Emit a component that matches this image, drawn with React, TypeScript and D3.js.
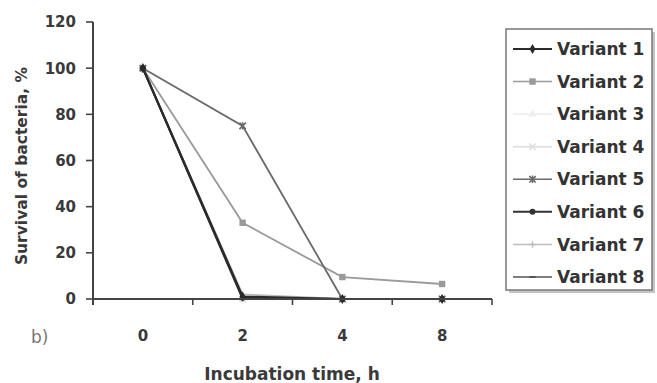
import * as d3 from 'd3';

const categories = ['0', '2', '4', '8'];
const yTicks = [0, 20, 40, 60, 80, 100, 120];
const variants = ['Variant 1', 'Variant 2', 'Variant 3', 'Variant 4', 'Variant 5', 'Variant 6', 'Variant 7', 'Variant 8'];

const v1 = [100, 1, 0, 0];
const v2 = [100, 33, 9.5, 6.5];
const v3 = [100, 0, 0, 0];
const v4 = [100, 0, 0, 0];
const v5 = [100, 75, 0, 0];
const v6 = [100, 0.5, 0, 0];
const v7 = [100, 2, 0, 0];
const v8 = [100, 0, 0, 0];
const seriesValues = [v1, v2, v3, v4, v5, v6, v7, v8];

const colors = ['#2a2a2a', '#9a9a9a', '#eeeeee', '#dddddd', '#6a6a6a', '#333333', '#bdbdbd', '#555555'];
const markers = ['diamond', 'square', 'triangle', 'x', 'star', 'circle', 'plus', 'dash'];

const W = 657;
const H = 383;
const font = '"DejaVu Sans", sans-serif';
const textColor = '#3a3a3a';

function Marker({ kind, x, y, color }: { kind: string; x: number; y: number; color: string }) {
  const s = 3.2;
  if (kind === 'diamond') return <path d={d3.symbol(d3.symbolDiamond, 30)()!} transform={`translate(${x},${y})`} fill={color} />;
  if (kind === 'square') return <rect x={x - s} y={y - s} width={2 * s} height={2 * s} fill={color} />;
  if (kind === 'triangle') return <path d={d3.symbol(d3.symbolTriangle, 30)()!} transform={`translate(${x},${y})`} fill={color} />;
  if (kind === 'circle') return <circle cx={x} cy={y} r={3} fill={color} />;
  if (kind === 'x')
    return <path d={`M${x - s},${y - s}L${x + s},${y + s}M${x - s},${y + s}L${x + s},${y - s}`} stroke={color} strokeWidth={1.5} />;
  if (kind === 'star')
    return (
      <path
        d={`M${x - s},${y - s}L${x + s},${y + s}M${x - s},${y + s}L${x + s},${y - s}M${x},${y - s - 0.5}L${x},${y + s + 0.5}`}
        stroke={color}
        strokeWidth={1.6}
      />
    );
  if (kind === 'plus') return <path d={`M${x - s},${y}L${x + s},${y}M${x},${y - s}L${x},${y + s}`} stroke={color} strokeWidth={1.4} />;
  return <path d={`M${x - s},${y}L${x + s},${y}`} stroke={color} strokeWidth={2} />;
}

export default function App() {
  const x = d3.scaleBand<string>().domain(categories).range([93, 492]).padding(0);
  const y = d3.scaleLinear().domain([0, 120]).range([299, 22]);
  const cx = (c: string) => x(c)! + x.bandwidth() / 2;

  const line = d3
    .line<number>()
    .x((_, i) => cx(categories[i]))
    .y((d) => y(d));

  const boundaries = [...categories.map((c) => x(c)!), x(categories[categories.length - 1])! + x.bandwidth()];

  const legendX = 506;
  const legendY = 29;
  const legendW = 146;
  const legendH = 261;
  const rowY = d3.scaleLinear().domain([0, variants.length - 1]).range([49, 277]);

  // draw light series first so the dark ones sit on top
  const order = [2, 3, 6, 1, 7, 4, 5, 0];

  return (
    <svg width={W} height={H} style={{ position: 'absolute', left: 0, top: 0, background: '#fff' }}>
      {/* y axis */}
      <line x1={93} x2={93} y1={y(120)} y2={y(0) + 6} stroke="#444" strokeWidth={2} />
      {yTicks.map((t) => (
        <g key={t}>
          <line x1={86} x2={93} y1={y(t)} y2={y(t)} stroke="#444" strokeWidth={1.6} />
          <text x={76} y={y(t)} dy="0.36em" textAnchor="end" fontFamily={font} fontWeight="bold" fontSize={15} fill={textColor}>
            {t}
          </text>
        </g>
      ))}

      {/* series */}
      {order.map((si) => (
        <g key={variants[si]}>
          <path d={line(seriesValues[si])!} fill="none" stroke={colors[si]} strokeWidth={si === 0 || si === 5 ? 2.2 : 1.8} />
          {seriesValues[si].map((v, i) => (
            <Marker key={i} kind={markers[si]} x={cx(categories[i])} y={y(v)} color={colors[si]} />
          ))}
        </g>
      ))}

      {/* x axis */}
      <line x1={93} x2={492} y1={y(0)} y2={y(0)} stroke="#444" strokeWidth={2} />
      {boundaries.map((b, i) => (
        <line key={i} x1={b} x2={b} y1={y(0)} y2={y(0) + 6} stroke="#444" strokeWidth={1.6} />
      ))}
      {categories.map((c) => (
        <text key={c} x={cx(c)} y={341} textAnchor="middle" fontFamily={font} fontWeight="bold" fontSize={15} fill={textColor}>
          {c}
        </text>
      ))}

      <text x={292} y={380} textAnchor="middle" fontFamily={font} fontWeight="bold" fontSize={17} fill={textColor}>
        Incubation time, h
      </text>
      <text
        transform={`translate(21,166) rotate(-90)`}
        textAnchor="middle"
        dy="0.36em"
        fontFamily={font}
        fontWeight="bold"
        fontSize={15.5}
        fill={textColor}
      >
        Survival of bacteria, %
      </text>
      <text x={31} y={343} fontFamily={font} fontSize={17} fill="#777">
        b)
      </text>

      {/* legend */}
      <rect x={legendX + 3} y={legendY + 3} width={legendW} height={legendH} fill="#c4c4c4" />
      <rect x={legendX} y={legendY} width={legendW} height={legendH} fill="#fff" stroke="#777" strokeWidth={1.5} />
      {variants.map((name, i) => (
        <g key={name}>
          <line x1={513} x2={552} y1={rowY(i)} y2={rowY(i)} stroke={colors[i]} strokeWidth={i === 0 || i === 5 ? 2 : 1.6} />
          <Marker kind={markers[i]} x={532.5} y={rowY(i)} color={colors[i]} />
          <text x={557} y={rowY(i)} dy="0.36em" fontFamily={font} fontWeight="bold" fontSize={17} fill="#333">
            {name}
          </text>
        </g>
      ))}
    </svg>
  );
}
